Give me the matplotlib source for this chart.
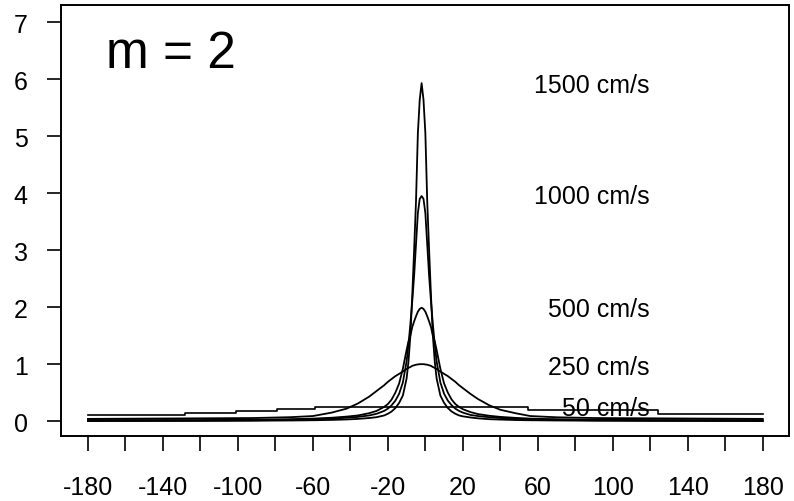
import numpy as np
import matplotlib
matplotlib.use("Agg")
import matplotlib.pyplot as plt

plt.rcParams['font.family'] = ['Liberation Sans', 'DejaVu Sans']

# angle grid (degrees) for the peaked curves
angle = [-180, -150, -120, -92, -72, -60, -50, -42, -36, -30, -26, -22, -20, -18,
         -16, -14, -12, -10, -9, -8, -7, -6, -5, -4, -3, -2, -1, 0, 1, 2, 3, 4, 5,
         6, 8, 10, 12, 14, 16, 18, 20, 24, 28, 34, 40, 48, 56, 70, 90, 120, 150, 180]

v1500 = [0.003, 0.004, 0.005, 0.008, 0.012, 0.016, 0.022, 0.03, 0.04, 0.055, 0.07, 0.1,
         0.13, 0.17, 0.23, 0.32, 0.45, 0.75, 1.05, 1.5, 2.2, 3.0, 3.85, 5.05, 5.64, 5.93,
         5.64, 5.05, 3.85, 3.0, 2.2, 1.5, 1.05, 0.75, 0.45, 0.32, 0.23, 0.17, 0.13, 0.1,
         0.085, 0.065, 0.05, 0.035, 0.028, 0.02, 0.016, 0.012, 0.008, 0.005, 0.004, 0.003]

v1000 = [0.005, 0.007, 0.01, 0.015, 0.025, 0.035, 0.045, 0.06, 0.075, 0.1, 0.13, 0.18,
         0.22, 0.28, 0.36, 0.48, 0.68, 1.05, 1.35, 1.7, 2.1, 2.55, 3.1, 3.65, 3.9, 3.95,
         3.9, 3.65, 3.1, 2.55, 2.1, 1.7, 1.35, 1.05, 0.68, 0.48, 0.36, 0.28, 0.22, 0.18,
         0.15, 0.11, 0.09, 0.07, 0.055, 0.042, 0.035, 0.024, 0.015, 0.01, 0.007, 0.005]

v500 = [0.02, 0.02, 0.02, 0.025, 0.035, 0.045, 0.06, 0.08, 0.1, 0.14, 0.18, 0.25,
        0.3, 0.38, 0.5, 0.66, 0.92, 1.25, 1.4, 1.5, 1.65, 1.75, 1.84, 1.92, 1.97, 1.99,
        1.97, 1.92, 1.84, 1.75, 1.65, 1.5, 1.4, 1.25, 0.92, 0.66, 0.5, 0.38, 0.3, 0.25,
        0.21, 0.16, 0.125, 0.095, 0.075, 0.058, 0.045, 0.034, 0.024, 0.02, 0.02, 0.02]

v250 = [0.04, 0.045, 0.05, 0.055, 0.07, 0.09, 0.15, 0.22, 0.31, 0.43, 0.53, 0.63,
        0.69, 0.74, 0.79, 0.83, 0.87, 0.915, 0.935, 0.95, 0.97, 0.98, 0.99, 0.995, 1.0, 1.0,
        1.0, 0.995, 0.99, 0.98, 0.97, 0.95, 0.935, 0.915, 0.87, 0.83, 0.79, 0.74, 0.69, 0.63,
        0.58, 0.48, 0.39, 0.28, 0.2, 0.14, 0.09, 0.068, 0.055, 0.05, 0.045, 0.04]

# 50 cm/s: nearly flat, stepped
angle50 = [-180, -128, -101, -79, -59, 55, 124, 180]
v50 = [0.105, 0.14, 0.17, 0.21, 0.24, 0.19, 0.12, 0.12]

labels = ["1500 cm/s", "1000 cm/s", "500 cm/s", "250 cm/s", "50 cm/s"]
label_y = [5.89, 3.95, 1.96, 0.95, 0.23]

fig = plt.figure(figsize=(7.94, 5.02), dpi=100)
ax = fig.add_axes([0.0768, 0.1295, 0.9169, 0.8585])

for v in [v1500, v1000, v500, v250]:
    ax.plot(angle, v, color="black", lw=1.3)
ax.plot(angle50, v50, color="black", lw=1.2, drawstyle="steps-post")

for lab, yy in zip(labels, label_y):
    ax.text(119.5, yy, lab, ha="right", va="center", fontsize=18)

ax.text(-170.5, 6.22, "m = 2", fontsize=37, ha="left", va="baseline")

ax.set_xlim(-194.4, 194)
ax.set_ylim(-0.26, 7.3)

xt = list(range(-180, 181, 20))
ax.set_xticks(xt)
ax.set_xticklabels([str(t) if (t + 180) % 40 == 0 else "" for t in xt], fontsize=18)
ax.set_yticks(range(0, 8))
ax.set_yticklabels([str(t) for t in range(0, 8)], fontsize=18)
ax.tick_params(axis="x", direction="out", length=11, width=1.2, pad=17)
ax.tick_params(axis="y", direction="out", length=10, width=1.2, pad=14)
for s in ax.spines.values():
    s.set_linewidth(1.4)

fig.savefig("out.png", dpi=100)
